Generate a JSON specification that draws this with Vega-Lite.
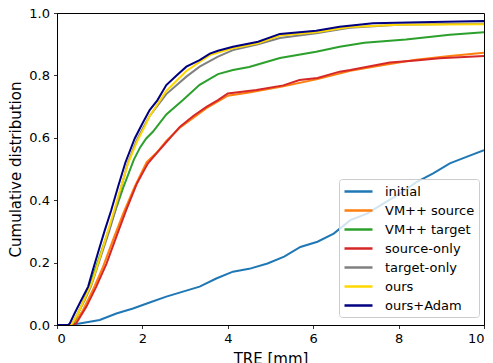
{
"$schema": "https://vega.github.io/schema/vega-lite/v6.json",
"width": 427, "height": 312,
"autosize": "none",
"padding": {"left": 57, "top": 13, "right": 9, "bottom": 38},
"background": "white",
"config": {
  "font": "DejaVu Sans",
  "view": {"stroke": "black", "strokeWidth": 1},
  "axis": {"grid": false, "domainColor": "black", "domainWidth": 1, "tickColor": "black", "tickWidth": 0.8, "tickSize": 3.5, "labelFontSize": 13, "labelColor": "black", "titleFontSize": 15, "titleFontWeight": "normal", "titleColor": "black", "labelPadding": 4}
},
"data": {"values": [
{"m":"initial","x":0,"y":0},{"m":"initial","x":0.3,"y":0},{"m":"initial","x":0.53,"y":0.005},{"m":"initial","x":1.0,"y":0.016},{"m":"initial","x":1.39,"y":0.037},{"m":"initial","x":1.78,"y":0.053},{"m":"initial","x":2.17,"y":0.072},{"m":"initial","x":2.56,"y":0.091},{"m":"initial","x":2.95,"y":0.107},{"m":"initial","x":3.34,"y":0.123},{"m":"initial","x":3.73,"y":0.149},{"m":"initial","x":4.12,"y":0.171},{"m":"initial","x":4.5,"y":0.18},{"m":"initial","x":4.93,"y":0.197},{"m":"initial","x":5.32,"y":0.219},{"m":"initial","x":5.7,"y":0.25},{"m":"initial","x":6.1,"y":0.267},{"m":"initial","x":6.48,"y":0.293},{"m":"initial","x":6.87,"y":0.336},{"m":"initial","x":7.26,"y":0.357},{"m":"initial","x":7.65,"y":0.39},{"m":"initial","x":8.04,"y":0.422},{"m":"initial","x":8.43,"y":0.459},{"m":"initial","x":8.81,"y":0.486},{"m":"initial","x":9.2,"y":0.518},{"m":"initial","x":9.59,"y":0.539},{"m":"initial","x":10,"y":0.56},
{"m":"VM++ source","x":0,"y":0},{"m":"VM++ source","x":0.3,"y":0},{"m":"VM++ source","x":0.41,"y":0.005},{"m":"VM++ source","x":0.61,"y":0.048},{"m":"VM++ source","x":0.84,"y":0.112},{"m":"VM++ source","x":1.08,"y":0.187},{"m":"VM++ source","x":1.31,"y":0.272},{"m":"VM++ source","x":1.55,"y":0.357},{"m":"VM++ source","x":1.82,"y":0.443},{"m":"VM++ source","x":2.1,"y":0.522},{"m":"VM++ source","x":2.33,"y":0.552},{"m":"VM++ source","x":2.56,"y":0.59},{"m":"VM++ source","x":2.875,"y":0.632},{"m":"VM++ source","x":3.1,"y":0.655},{"m":"VM++ source","x":3.5,"y":0.695},{"m":"VM++ source","x":4.0,"y":0.735},{"m":"VM++ source","x":4.5,"y":0.745},{"m":"VM++ source","x":5.3,"y":0.765},{"m":"VM++ source","x":6.1,"y":0.788},{"m":"VM++ source","x":6.87,"y":0.815},{"m":"VM++ source","x":7.65,"y":0.833},{"m":"VM++ source","x":8.4,"y":0.85},{"m":"VM++ source","x":9.2,"y":0.862},{"m":"VM++ source","x":10,"y":0.873},
{"m":"VM++ target","x":0,"y":0},{"m":"VM++ target","x":0.3,"y":0},{"m":"VM++ target","x":0.38,"y":0.005},{"m":"VM++ target","x":0.6,"y":0.07},{"m":"VM++ target","x":0.8,"y":0.14},{"m":"VM++ target","x":1.05,"y":0.24},{"m":"VM++ target","x":1.3,"y":0.34},{"m":"VM++ target","x":1.55,"y":0.44},{"m":"VM++ target","x":1.8,"y":0.53},{"m":"VM++ target","x":1.95,"y":0.57},{"m":"VM++ target","x":2.09,"y":0.598},{"m":"VM++ target","x":2.25,"y":0.62},{"m":"VM++ target","x":2.56,"y":0.675},{"m":"VM++ target","x":2.95,"y":0.721},{"m":"VM++ target","x":3.34,"y":0.77},{"m":"VM++ target","x":3.77,"y":0.804},{"m":"VM++ target","x":4.12,"y":0.817},{"m":"VM++ target","x":4.5,"y":0.827},{"m":"VM++ target","x":5.22,"y":0.856},{"m":"VM++ target","x":6.07,"y":0.876},{"m":"VM++ target","x":6.62,"y":0.892},{"m":"VM++ target","x":7.2,"y":0.905},{"m":"VM++ target","x":8.17,"y":0.915},{"m":"VM++ target","x":9.2,"y":0.93},{"m":"VM++ target","x":10,"y":0.938},
{"m":"source-only","x":0,"y":0},{"m":"source-only","x":0.3,"y":0},{"m":"source-only","x":0.45,"y":0.005},{"m":"source-only","x":0.69,"y":0.059},{"m":"source-only","x":0.92,"y":0.123},{"m":"source-only","x":1.16,"y":0.197},{"m":"source-only","x":1.39,"y":0.283},{"m":"source-only","x":1.62,"y":0.368},{"m":"source-only","x":1.87,"y":0.453},{"m":"source-only","x":2.0,"y":0.486},{"m":"source-only","x":2.13,"y":0.518},{"m":"source-only","x":2.33,"y":0.55},{"m":"source-only","x":2.64,"y":0.598},{"m":"source-only","x":2.875,"y":0.635},{"m":"source-only","x":3.19,"y":0.67},{"m":"source-only","x":3.5,"y":0.699},{"m":"source-only","x":3.77,"y":0.721},{"m":"source-only","x":4.0,"y":0.742},{"m":"source-only","x":4.67,"y":0.753},{"m":"source-only","x":5.3,"y":0.768},{"m":"source-only","x":5.68,"y":0.785},{"m":"source-only","x":6.1,"y":0.792},{"m":"source-only","x":6.62,"y":0.812},{"m":"source-only","x":6.87,"y":0.817},{"m":"source-only","x":7.79,"y":0.841},{"m":"source-only","x":8.4,"y":0.848},{"m":"source-only","x":8.96,"y":0.855},{"m":"source-only","x":10,"y":0.862},
{"m":"target-only","x":0,"y":0},{"m":"target-only","x":0.3,"y":0},{"m":"target-only","x":0.36,"y":0.005},{"m":"target-only","x":0.5,"y":0.04},{"m":"target-only","x":0.65,"y":0.08},{"m":"target-only","x":0.8,"y":0.125},{"m":"target-only","x":0.93,"y":0.18},{"m":"target-only","x":1.1,"y":0.25},{"m":"target-only","x":1.22,"y":0.3},{"m":"target-only","x":1.35,"y":0.36},{"m":"target-only","x":1.5,"y":0.44},{"m":"target-only","x":1.66,"y":0.52},{"m":"target-only","x":1.86,"y":0.59},{"m":"target-only","x":2.05,"y":0.64},{"m":"target-only","x":2.17,"y":0.67},{"m":"target-only","x":2.56,"y":0.74},{"m":"target-only","x":3.03,"y":0.796},{"m":"target-only","x":3.34,"y":0.828},{"m":"target-only","x":3.77,"y":0.86},{"m":"target-only","x":4.12,"y":0.881},{"m":"target-only","x":4.71,"y":0.9},{"m":"target-only","x":5.22,"y":0.92},{"m":"target-only","x":6.07,"y":0.935},{"m":"target-only","x":6.85,"y":0.953},{"m":"target-only","x":8,"y":0.962},{"m":"target-only","x":10,"y":0.966},
{"m":"ours","x":0,"y":0},{"m":"ours","x":0.3,"y":0},{"m":"ours","x":0.36,"y":0.005},{"m":"ours","x":0.5,"y":0.04},{"m":"ours","x":0.65,"y":0.085},{"m":"ours","x":0.8,"y":0.13},{"m":"ours","x":0.92,"y":0.18},{"m":"ours","x":1.08,"y":0.25},{"m":"ours","x":1.2,"y":0.304},{"m":"ours","x":1.34,"y":0.368},{"m":"ours","x":1.5,"y":0.443},{"m":"ours","x":1.67,"y":0.52},{"m":"ours","x":1.88,"y":0.59},{"m":"ours","x":2.05,"y":0.635},{"m":"ours","x":2.17,"y":0.67},{"m":"ours","x":2.56,"y":0.75},{"m":"ours","x":3.03,"y":0.814},{"m":"ours","x":3.34,"y":0.843},{"m":"ours","x":3.58,"y":0.865},{"m":"ours","x":4.12,"y":0.887},{"m":"ours","x":4.71,"y":0.903},{"m":"ours","x":5.22,"y":0.928},{"m":"ours","x":6.07,"y":0.938},{"m":"ours","x":6.85,"y":0.955},{"m":"ours","x":8,"y":0.962},{"m":"ours","x":10,"y":0.964},
{"m":"ours+Adam","x":0,"y":0},{"m":"ours+Adam","x":0.26,"y":0},{"m":"ours+Adam","x":0.3,"y":0.005},{"m":"ours+Adam","x":0.41,"y":0.037},{"m":"ours+Adam","x":0.57,"y":0.08},{"m":"ours+Adam","x":0.73,"y":0.123},{"m":"ours+Adam","x":0.84,"y":0.176},{"m":"ours+Adam","x":1.0,"y":0.25},{"m":"ours+Adam","x":1.12,"y":0.304},{"m":"ours+Adam","x":1.27,"y":0.368},{"m":"ours+Adam","x":1.43,"y":0.443},{"m":"ours+Adam","x":1.6,"y":0.52},{"m":"ours+Adam","x":1.82,"y":0.598},{"m":"ours+Adam","x":2.0,"y":0.646},{"m":"ours+Adam","x":2.17,"y":0.689},{"m":"ours+Adam","x":2.35,"y":0.72},{"m":"ours+Adam","x":2.56,"y":0.769},{"m":"ours+Adam","x":2.8,"y":0.8},{"m":"ours+Adam","x":3.03,"y":0.828},{"m":"ours+Adam","x":3.34,"y":0.849},{"m":"ours+Adam","x":3.58,"y":0.87},{"m":"ours+Adam","x":3.77,"y":0.879},{"m":"ours+Adam","x":4.12,"y":0.892},{"m":"ours+Adam","x":4.71,"y":0.908},{"m":"ours+Adam","x":5.22,"y":0.933},{"m":"ours+Adam","x":6.07,"y":0.943},{"m":"ours+Adam","x":6.62,"y":0.956},{"m":"ours+Adam","x":7.4,"y":0.967},{"m":"ours+Adam","x":8.5,"y":0.97},{"m":"ours+Adam","x":10,"y":0.974}
]},
"mark": {"type": "line", "strokeWidth": 2, "clip": true},
"encoding": {
  "x": {"field": "x", "type": "quantitative", "scale": {"domain": [0, 10], "nice": false, "zero": false},
        "axis": {"title": "TRE [mm]", "values": [0, 2, 4, 6, 8, 10], "format": "d", "titlePadding": 6}},
  "y": {"field": "y", "type": "quantitative", "scale": {"domain": [0, 1], "nice": false},
        "axis": {"title": "Cumulative distribution", "values": [0, 0.2, 0.4, 0.6, 0.8, 1.0], "format": ".1f", "titlePadding": 5}},
  "color": {"field": "m", "type": "nominal",
    "scale": {"domain": ["initial", "VM++ source", "VM++ target", "source-only", "target-only", "ours", "ours+Adam"],
              "range": ["#1f77b4", "#ff7f0e", "#2ca02c", "#d62728", "#808080", "#ffd700", "#000080"]},
    "legend": {"title": null, "orient": "none", "legendX": 282, "legendY": 166, "symbolType": "M-1,0H3", "symbolSize": 196, "symbolStrokeWidth": 2.5, "symbolFillColor": "transparent", "labelFontSize": 13, "labelColor": "black", "labelOffset": 25, "fillColor": "rgba(255,255,255,0.8)", "strokeColor": "#cccccc", "cornerRadius": 3, "padding": 4, "rowPadding": 3}
  }
}
}
